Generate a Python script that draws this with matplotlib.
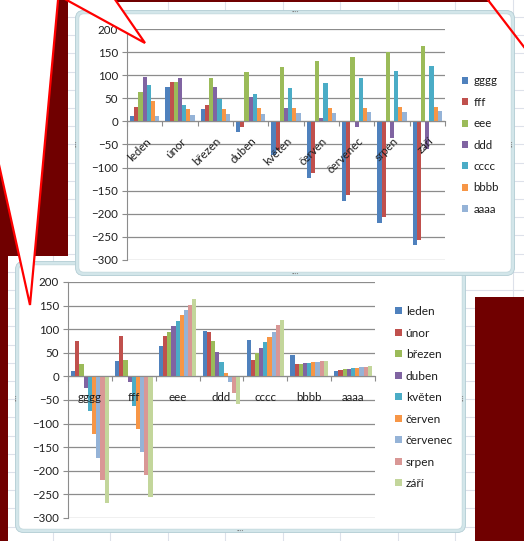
import matplotlib
matplotlib.use('Agg')
import matplotlib.pyplot as plt
from matplotlib.patches import FancyBboxPatch, Polygon, Rectangle
import numpy as np

# data table: rows = months, columns = series
months = ['leden', 'únor', 'březen', 'duben', 'květen', 'červen',
          'červenec', 'srpen', 'září']
series = ['gggg', 'fff', 'eee', 'ddd', 'cccc', 'bbbb', 'aaaa']

gggg = [12, 74, 26, -24, -73, -122, -172, -220, -268]
fff = [32, 85, 35, -12, -62, -112, -160, -208, -256]
eee = [64, 85, 95, 107, 118, 130, 140, 151, 163]
ddd = [97, 95, 74, 52, 30, 8, -12, -36, -59]
cccc = [78, 35, 49, 60, 72, 84, 95, 109, 120]
bbbb = [45, 26, 26, 28, 28, 30, 30, 32, 32]
aaaa = [12, 14, 16, 16, 18, 18, 20, 20, 22]

y_ticks = [-300, -250, -200, -150, -100, -50, 0, 50, 100, 150, 200]

excel_colors = ['#4F81BD', '#C0504D', '#9BBB59', '#8064A2', '#4BACC6',
                '#F79646', '#95B3D7', '#D99795', '#C3D69B']

plt.rcParams['font.family'] = ['Lato', 'DejaVu Sans']

W, H = 524, 541
DPI = 100
TXT = '#1e1e1e'
GRID = '#8c8c8c'
DARK = '#700000'

fig = plt.figure(figsize=(W / DPI, H / DPI), dpi=DPI)
fig.patch.set_facecolor('white')


def layer(z):
    """Full figure axes in pixel coords (y down)."""
    ax = fig.add_axes([0, 0, 1, 1])
    ax.set_xlim(0, W)
    ax.set_ylim(H, 0)
    ax.axis('off')
    ax.set_zorder(z)
    return ax


def plot_axes(x0, y0, x1, y1, z):
    ax = fig.add_axes([x0 / W, 1 - y1 / H, (x1 - x0) / W, (y1 - y0) / H])
    ax.set_zorder(z)
    ax.patch.set_alpha(0)
    return ax


def chart_frame(ax, x0, y0, x1, y1):
    ax.add_patch(FancyBboxPatch((x0, y0), x1 - x0, y1 - y0,
                                boxstyle='round,pad=0,rounding_size=7',
                                facecolor='white', edgecolor='#d3e6ea', lw=2.4))
    ax.add_patch(FancyBboxPatch((x0 - 1.5, y0 - 1.5), x1 - x0 + 3, y1 - y0 + 3,
                                boxstyle='round,pad=0,rounding_size=8',
                                facecolor='none', edgecolor='#b3cdd4', lw=0.6))
    ax.add_patch(FancyBboxPatch((x0 + 1.8, y0 + 1.8), x1 - x0 - 3.6, y1 - y0 - 3.6,
                                boxstyle='round,pad=0,rounding_size=5',
                                facecolor='none', edgecolor='#bfd6dc', lw=0.6))
    mx, my = (x0 + x1) / 2, (y0 + y1) / 2
    kw = dict(fontsize=5, color='#7f7f7f', ha='center', va='center')
    ax.text(mx, y0, '····', **kw)
    ax.text(mx, y1, '····', **kw)
    ax.text(x0, my, '····', rotation=90, **kw)
    ax.text(x1, my, '····', rotation=90, **kw)


def style_chart(ax, n_cat):
    ax.set_xlim(-0.5, n_cat - 0.5)
    ax.set_ylim(y_ticks[0], y_ticks[-1])
    ax.set_yticks(y_ticks)
    ax.yaxis.grid(True, color=GRID, lw=0.9)
    ax.set_axisbelow(True)
    for s in ['top', 'right']:
        ax.spines[s].set_visible(False)
    ax.spines['left'].set_color(GRID)
    ax.spines['bottom'].set_color(GRID)
    ax.spines['bottom'].set_position(('data', 0))
    ax.set_xticks(np.arange(-0.5, n_cat, 1.0))
    ax.set_xticklabels([])
    ax.tick_params(axis='both', direction='out', length=3.5, width=0.8,
                   color=GRID, labelsize=8.3, labelcolor=TXT)
    ax.tick_params(axis='y', pad=3)


# --- excel sheet background ---
bg = layer(0)
for x in np.arange(52.5, W, 57.5):
    bg.plot([x, x], [0, H], color='#dde1ea', lw=0.8)
for y in np.arange(17, H, 18.2):
    bg.plot([0, W], [y, y], color='#dde1ea', lw=0.8)

# --- bottom chart: categories = series, one bar per month ---
fr_b = layer(1)
chart_frame(fr_b, 17, 263, 464, 531)
ax_b = plot_axes(68, 282, 375, 518, 2)
style_chart(ax_b, len(series))
table = [gggg, fff, eee, ddd, cccc, bbbb, aaaa]
xb = np.arange(len(series))
wb = 1 / (len(months) + 1.5)
for i, m in enumerate(months):
    vals = [col[i] for col in table]
    ax_b.bar(xb + (i - 4) * wb, vals, wb, color=excel_colors[i], lw=0, label=m)
for k, name in enumerate(series):
    ax_b.text(k, -44, name, ha='center', va='center', fontsize=8.3, color=TXT)
ax_b.legend(loc='upper left', bbox_to_anchor=(395 / W, 1 - 306 / H),
            bbox_transform=fig.transFigure, frameon=False, fontsize=8.6,
            handlelength=0.55, handleheight=0.55, handletextpad=0.35,
            labelspacing=0.88, borderpad=0, borderaxespad=0, labelcolor=TXT)

# --- top chart: categories = months, one bar per series ---
fr_t = layer(3)
chart_frame(fr_t, 77, 12, 513, 274)
ax_t = plot_axes(127, 29, 445, 260, 4)
style_chart(ax_t, len(months))
xt = np.arange(len(months))
wt = 1 / (len(series) + 1.5)
for j, (name, vals) in enumerate(zip(series, table)):
    ax_t.bar(xt + (j - 3) * wt, vals, wt, color=excel_colors[j], lw=0, label=name)
for k, m in enumerate(months):
    ax_t.text(k + 0.12, -39, m, rotation=45, rotation_mode='anchor',
              ha='right', va='center', fontsize=8.3, color=TXT)
ax_t.legend(loc='upper left', bbox_to_anchor=(462 / W, 1 - 75.5 / H),
            bbox_transform=fig.transFigure, frameon=False, fontsize=8.3,
            handlelength=0.55, handleheight=0.55, handletextpad=0.45,
            labelspacing=0.9, borderpad=0, borderaxespad=0, labelcolor=TXT)

# --- slide background pieces and callout pointers on top ---
ov = layer(5)
ov.add_patch(Rectangle((0, 0), 68, 256, facecolor=DARK, lw=0))
ov.add_patch(Rectangle((0, 256), 8, H - 256, facecolor=DARK, lw=0))
ov.add_patch(Rectangle((68, 0), 422, 2, facecolor=DARK, lw=0))
ov.add_patch(Rectangle((475, 297), W - 475, H - 297, facecolor=DARK, lw=0))

left_ptr = [(-10, -5), (58.5, -5), (30, 305), (-10, 124)]
ov.add_patch(Polygon(left_ptr, closed=True, facecolor='white', lw=0))
ov.plot([58.5, 30, -10], [-5, 305, 124], color='red', lw=1.6,
        solid_joinstyle='miter')
top_ptr = [(63, -2), (114, -2), (145, 43)]
ov.add_patch(Polygon(top_ptr, closed=True, facecolor='white', lw=0))
ov.plot([63, 145, 114], [-2, 43, -2], color='red', lw=1.6,
        solid_joinstyle='miter')
ov.plot([488, 524], [0, 47], color='red', lw=1.6)

fig.savefig('out.png', dpi=DPI)
